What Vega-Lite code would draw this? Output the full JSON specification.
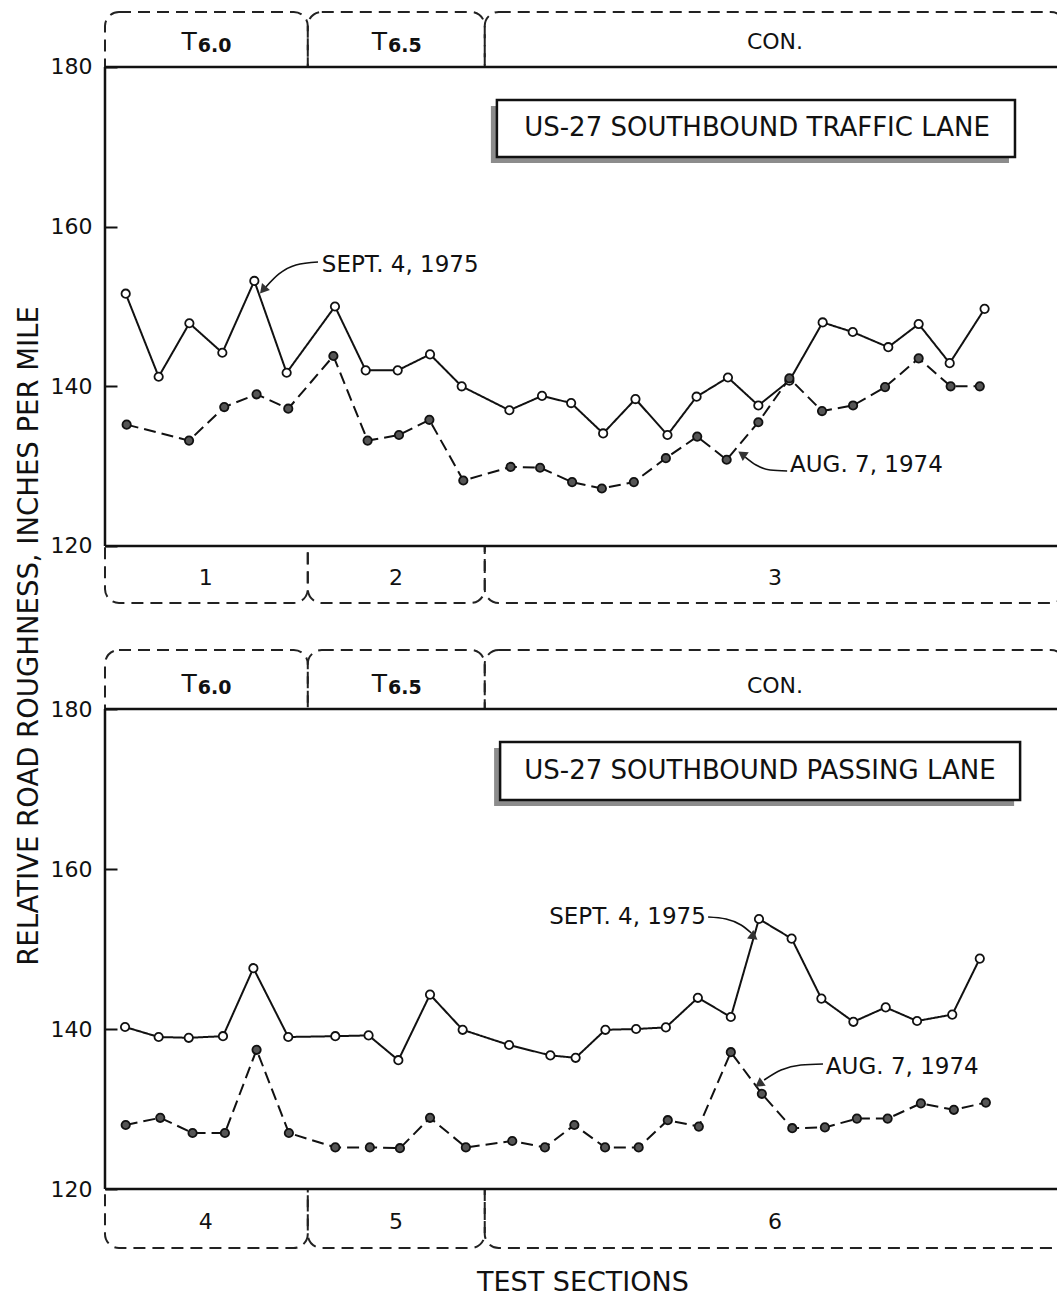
{
  "$schema": "https://vega.github.io/schema/vega-lite/v6.json",
  "width": 1057,
  "height": 1296,
  "autosize": {"type": "none"},
  "padding": 0,
  "background": "white",
  "config": {"view": {"stroke": null}, "font": "DejaVu Sans", "text": {"font": "DejaVu Sans", "color": "#111"}},
  "datasets": {
    "single": [{}],
    "sections": [
      {"panel": "top", "section": "1", "treat": "T", "sub": "6.0", "start": 0.353, "end": 6.69, "center": 3.50},
      {"panel": "top", "section": "2", "treat": "T", "sub": "6.5", "start": 6.69, "end": 12.22, "center": 9.45},
      {"panel": "top", "section": "3", "treat": "CON.", "sub": "", "start": 12.22, "end": 30.35, "center": 21.29},
      {"panel": "bottom", "section": "4", "treat": "T", "sub": "6.0", "start": 0.353, "end": 6.69, "center": 3.50},
      {"panel": "bottom", "section": "5", "treat": "T", "sub": "6.5", "start": 6.69, "end": 12.22, "center": 9.45},
      {"panel": "bottom", "section": "6", "treat": "CON.", "sub": "", "start": 12.22, "end": 30.35, "center": 21.29}
    ],
    "roughness": [
      {"panel": "top", "date": "SEPT. 4, 1975", "station": 1.00, "value": 151.6},
      {"panel": "top", "date": "SEPT. 4, 1975", "station": 2.03, "value": 141.2},
      {"panel": "top", "date": "SEPT. 4, 1975", "station": 2.99, "value": 147.9},
      {"panel": "top", "date": "SEPT. 4, 1975", "station": 4.02, "value": 144.2},
      {"panel": "top", "date": "SEPT. 4, 1975", "station": 5.02, "value": 153.2},
      {"panel": "top", "date": "SEPT. 4, 1975", "station": 6.03, "value": 141.7},
      {"panel": "top", "date": "SEPT. 4, 1975", "station": 7.54, "value": 150.0},
      {"panel": "top", "date": "SEPT. 4, 1975", "station": 8.50, "value": 142.0},
      {"panel": "top", "date": "SEPT. 4, 1975", "station": 9.50, "value": 142.0},
      {"panel": "top", "date": "SEPT. 4, 1975", "station": 10.51, "value": 144.0},
      {"panel": "top", "date": "SEPT. 4, 1975", "station": 11.50, "value": 140.0},
      {"panel": "top", "date": "SEPT. 4, 1975", "station": 12.99, "value": 137.0},
      {"panel": "top", "date": "SEPT. 4, 1975", "station": 14.01, "value": 138.8},
      {"panel": "top", "date": "SEPT. 4, 1975", "station": 14.92, "value": 137.9},
      {"panel": "top", "date": "SEPT. 4, 1975", "station": 15.92, "value": 134.1},
      {"panel": "top", "date": "SEPT. 4, 1975", "station": 16.93, "value": 138.4},
      {"panel": "top", "date": "SEPT. 4, 1975", "station": 17.93, "value": 133.9},
      {"panel": "top", "date": "SEPT. 4, 1975", "station": 18.84, "value": 138.7},
      {"panel": "top", "date": "SEPT. 4, 1975", "station": 19.82, "value": 141.1},
      {"panel": "top", "date": "SEPT. 4, 1975", "station": 20.77, "value": 137.6},
      {"panel": "top", "date": "SEPT. 4, 1975", "station": 21.74, "value": 140.7},
      {"panel": "top", "date": "SEPT. 4, 1975", "station": 22.78, "value": 148.0},
      {"panel": "top", "date": "SEPT. 4, 1975", "station": 23.72, "value": 146.8},
      {"panel": "top", "date": "SEPT. 4, 1975", "station": 24.83, "value": 144.9},
      {"panel": "top", "date": "SEPT. 4, 1975", "station": 25.78, "value": 147.8},
      {"panel": "top", "date": "SEPT. 4, 1975", "station": 26.75, "value": 142.9},
      {"panel": "top", "date": "SEPT. 4, 1975", "station": 27.84, "value": 149.7},
      {"panel": "top", "date": "AUG. 7, 1974", "station": 1.03, "value": 135.2},
      {"panel": "top", "date": "AUG. 7, 1974", "station": 2.98, "value": 133.2},
      {"panel": "top", "date": "AUG. 7, 1974", "station": 4.08, "value": 137.4},
      {"panel": "top", "date": "AUG. 7, 1974", "station": 5.09, "value": 139.0},
      {"panel": "top", "date": "AUG. 7, 1974", "station": 6.08, "value": 137.2},
      {"panel": "top", "date": "AUG. 7, 1974", "station": 7.49, "value": 143.8},
      {"panel": "top", "date": "AUG. 7, 1974", "station": 8.56, "value": 133.2},
      {"panel": "top", "date": "AUG. 7, 1974", "station": 9.54, "value": 133.9},
      {"panel": "top", "date": "AUG. 7, 1974", "station": 10.49, "value": 135.8},
      {"panel": "top", "date": "AUG. 7, 1974", "station": 11.55, "value": 128.2},
      {"panel": "top", "date": "AUG. 7, 1974", "station": 13.03, "value": 129.9},
      {"panel": "top", "date": "AUG. 7, 1974", "station": 13.95, "value": 129.8},
      {"panel": "top", "date": "AUG. 7, 1974", "station": 14.95, "value": 128.0},
      {"panel": "top", "date": "AUG. 7, 1974", "station": 15.88, "value": 127.2},
      {"panel": "top", "date": "AUG. 7, 1974", "station": 16.88, "value": 128.0},
      {"panel": "top", "date": "AUG. 7, 1974", "station": 17.88, "value": 131.0},
      {"panel": "top", "date": "AUG. 7, 1974", "station": 18.86, "value": 133.7},
      {"panel": "top", "date": "AUG. 7, 1974", "station": 19.78, "value": 130.8},
      {"panel": "top", "date": "AUG. 7, 1974", "station": 20.77, "value": 135.5},
      {"panel": "top", "date": "AUG. 7, 1974", "station": 21.74, "value": 141.0},
      {"panel": "top", "date": "AUG. 7, 1974", "station": 22.76, "value": 136.9},
      {"panel": "top", "date": "AUG. 7, 1974", "station": 23.73, "value": 137.6},
      {"panel": "top", "date": "AUG. 7, 1974", "station": 24.73, "value": 139.9},
      {"panel": "top", "date": "AUG. 7, 1974", "station": 25.78, "value": 143.5},
      {"panel": "top", "date": "AUG. 7, 1974", "station": 26.78, "value": 140.0},
      {"panel": "top", "date": "AUG. 7, 1974", "station": 27.69, "value": 140.0},
      {"panel": "bottom", "date": "SEPT. 4, 1975", "station": 0.98, "value": 140.25},
      {"panel": "bottom", "date": "SEPT. 4, 1975", "station": 2.03, "value": 139.0},
      {"panel": "bottom", "date": "SEPT. 4, 1975", "station": 2.97, "value": 138.9},
      {"panel": "bottom", "date": "SEPT. 4, 1975", "station": 4.04, "value": 139.1},
      {"panel": "bottom", "date": "SEPT. 4, 1975", "station": 4.99, "value": 147.6},
      {"panel": "bottom", "date": "SEPT. 4, 1975", "station": 6.08, "value": 139.0},
      {"panel": "bottom", "date": "SEPT. 4, 1975", "station": 7.55, "value": 139.1},
      {"panel": "bottom", "date": "SEPT. 4, 1975", "station": 8.59, "value": 139.2},
      {"panel": "bottom", "date": "SEPT. 4, 1975", "station": 9.52, "value": 136.1},
      {"panel": "bottom", "date": "SEPT. 4, 1975", "station": 10.51, "value": 144.3},
      {"panel": "bottom", "date": "SEPT. 4, 1975", "station": 11.53, "value": 139.9},
      {"panel": "bottom", "date": "SEPT. 4, 1975", "station": 12.98, "value": 138.0},
      {"panel": "bottom", "date": "SEPT. 4, 1975", "station": 14.27, "value": 136.7},
      {"panel": "bottom", "date": "SEPT. 4, 1975", "station": 15.06, "value": 136.4},
      {"panel": "bottom", "date": "SEPT. 4, 1975", "station": 15.99, "value": 139.9},
      {"panel": "bottom", "date": "SEPT. 4, 1975", "station": 16.95, "value": 140.0},
      {"panel": "bottom", "date": "SEPT. 4, 1975", "station": 17.88, "value": 140.2},
      {"panel": "bottom", "date": "SEPT. 4, 1975", "station": 18.88, "value": 143.9},
      {"panel": "bottom", "date": "SEPT. 4, 1975", "station": 19.91, "value": 141.5},
      {"panel": "bottom", "date": "SEPT. 4, 1975", "station": 20.79, "value": 153.75},
      {"panel": "bottom", "date": "SEPT. 4, 1975", "station": 21.81, "value": 151.3},
      {"panel": "bottom", "date": "SEPT. 4, 1975", "station": 22.74, "value": 143.8},
      {"panel": "bottom", "date": "SEPT. 4, 1975", "station": 23.74, "value": 140.9},
      {"panel": "bottom", "date": "SEPT. 4, 1975", "station": 24.75, "value": 142.7},
      {"panel": "bottom", "date": "SEPT. 4, 1975", "station": 25.73, "value": 141.0},
      {"panel": "bottom", "date": "SEPT. 4, 1975", "station": 26.83, "value": 141.8},
      {"panel": "bottom", "date": "SEPT. 4, 1975", "station": 27.69, "value": 148.8},
      {"panel": "bottom", "date": "AUG. 7, 1974", "station": 1.00, "value": 128.0},
      {"panel": "bottom", "date": "AUG. 7, 1974", "station": 2.08, "value": 128.9},
      {"panel": "bottom", "date": "AUG. 7, 1974", "station": 3.09, "value": 127.0},
      {"panel": "bottom", "date": "AUG. 7, 1974", "station": 4.10, "value": 127.0},
      {"panel": "bottom", "date": "AUG. 7, 1974", "station": 5.09, "value": 137.4},
      {"panel": "bottom", "date": "AUG. 7, 1974", "station": 6.10, "value": 127.0},
      {"panel": "bottom", "date": "AUG. 7, 1974", "station": 7.55, "value": 125.2},
      {"panel": "bottom", "date": "AUG. 7, 1974", "station": 8.63, "value": 125.2},
      {"panel": "bottom", "date": "AUG. 7, 1974", "station": 9.57, "value": 125.1},
      {"panel": "bottom", "date": "AUG. 7, 1974", "station": 10.51, "value": 128.9},
      {"panel": "bottom", "date": "AUG. 7, 1974", "station": 11.63, "value": 125.2},
      {"panel": "bottom", "date": "AUG. 7, 1974", "station": 13.08, "value": 126.0},
      {"panel": "bottom", "date": "AUG. 7, 1974", "station": 14.10, "value": 125.2},
      {"panel": "bottom", "date": "AUG. 7, 1974", "station": 15.02, "value": 128.0},
      {"panel": "bottom", "date": "AUG. 7, 1974", "station": 15.98, "value": 125.2},
      {"panel": "bottom", "date": "AUG. 7, 1974", "station": 17.03, "value": 125.2},
      {"panel": "bottom", "date": "AUG. 7, 1974", "station": 17.94, "value": 128.6},
      {"panel": "bottom", "date": "AUG. 7, 1974", "station": 18.91, "value": 127.8},
      {"panel": "bottom", "date": "AUG. 7, 1974", "station": 19.91, "value": 137.1},
      {"panel": "bottom", "date": "AUG. 7, 1974", "station": 20.88, "value": 131.9},
      {"panel": "bottom", "date": "AUG. 7, 1974", "station": 21.83, "value": 127.6},
      {"panel": "bottom", "date": "AUG. 7, 1974", "station": 22.85, "value": 127.7},
      {"panel": "bottom", "date": "AUG. 7, 1974", "station": 23.85, "value": 128.8},
      {"panel": "bottom", "date": "AUG. 7, 1974", "station": 24.81, "value": 128.8},
      {"panel": "bottom", "date": "AUG. 7, 1974", "station": 25.85, "value": 130.7},
      {"panel": "bottom", "date": "AUG. 7, 1974", "station": 26.88, "value": 129.9},
      {"panel": "bottom", "date": "AUG. 7, 1974", "station": 27.88, "value": 130.8}
    ],
    "arrows": [
      {"panel": "top", "arrow": "a", "order": 1, "station": 7.01, "value": 155.57},
      {"panel": "top", "arrow": "a", "order": 2, "station": 6.32, "value": 155.2},
      {"panel": "top", "arrow": "a", "order": 3, "station": 5.79, "value": 154.07},
      {"panel": "top", "arrow": "a", "order": 4, "station": 5.38, "value": 152.44},
      {"panel": "top", "arrow": "b", "order": 1, "station": 21.67, "value": 129.39},
      {"panel": "top", "arrow": "b", "order": 2, "station": 21.14, "value": 129.52},
      {"panel": "top", "arrow": "b", "order": 3, "station": 20.70, "value": 130.14},
      {"panel": "top", "arrow": "b", "order": 4, "station": 20.36, "value": 131.14},
      {"panel": "bottom", "arrow": "c", "order": 1, "station": 19.20, "value": 154.0},
      {"panel": "bottom", "arrow": "c", "order": 2, "station": 19.76, "value": 153.75},
      {"panel": "bottom", "arrow": "c", "order": 3, "station": 20.23, "value": 153.0},
      {"panel": "bottom", "arrow": "c", "order": 4, "station": 20.55, "value": 152.0},
      {"panel": "bottom", "arrow": "d", "order": 1, "station": 22.79, "value": 135.62},
      {"panel": "bottom", "arrow": "d", "order": 2, "station": 22.10, "value": 135.5},
      {"panel": "bottom", "arrow": "d", "order": 3, "station": 21.48, "value": 134.87},
      {"panel": "bottom", "arrow": "d", "order": 4, "station": 20.95, "value": 133.62}
    ]
  },
  "layer": [
    {
      "data": {"name": "single"},
      "layer": [
        {
          "data": {"name": "sections"},
          "transform": [{"filter": "datum.panel == 'top'"}],
          "layer": [
            {
              "mark": {"type": "rect", "filled": false, "stroke": "#222", "strokeWidth": 2, "strokeDash": [12, 7], "cornerRadiusTopLeft": 14, "cornerRadiusTopRight": 14},
              "encoding": {
                "x": {"field": "start", "type": "quantitative", "scale": {"domain": [-2.928, 30.103], "nice": false, "zero": false}, "axis": null},
                "x2": {"field": "end"},
                "y": {"datum": 180, "type": "quantitative", "scale": {"domain": [26.05, 188.39], "nice": false, "zero": false},
                  "axis": {"orient": "left", "values": [120, 140, 160, 180], "offset": -105, "domain": false, "grid": false, "tickSize": -12, "tickWidth": 2, "tickColor": "#111", "labelPadding": 25, "labelFontSize": 22, "labelFont": "DejaVu Sans", "labelColor": "#111", "labelFlush": false, "title": null}},
                "y2": {"datum": 186.89}
              }
            },
            {
              "mark": {"type": "rect", "filled": false, "stroke": "#222", "strokeWidth": 2, "strokeDash": [12, 7], "cornerRadiusBottomLeft": 14, "cornerRadiusBottomRight": 14},
              "encoding": {"x": {"field": "start", "type": "quantitative"}, "x2": {"field": "end"}, "y": {"datum": 112.86, "type": "quantitative"}, "y2": {"datum": 120}}
            },
            {
              "transform": [{"filter": "datum.sub != ''"}],
              "mark": {"type": "text", "fontSize": 25, "align": "right", "baseline": "alphabetic", "dx": -9},
              "encoding": {"x": {"field": "center", "type": "quantitative"}, "y": {"datum": 182.13, "type": "quantitative"}, "text": {"field": "treat"}}
            },
            {
              "transform": [{"filter": "datum.sub != ''"}],
              "mark": {"type": "text", "fontSize": 19, "fontWeight": "bold", "align": "left", "baseline": "alphabetic", "dx": -8, "dy": 2},
              "encoding": {"x": {"field": "center", "type": "quantitative"}, "y": {"datum": 182.13, "type": "quantitative"}, "text": {"field": "sub"}}
            },
            {
              "transform": [{"filter": "datum.sub == ''"}],
              "mark": {"type": "text", "fontSize": 22, "align": "center", "baseline": "middle"},
              "encoding": {"x": {"field": "center", "type": "quantitative"}, "y": {"datum": 183.13, "type": "quantitative"}, "text": {"field": "treat"}}
            },
            {
              "mark": {"type": "text", "fontSize": 22, "align": "center", "baseline": "middle"},
              "encoding": {"x": {"field": "center", "type": "quantitative"}, "y": {"datum": 115.99, "type": "quantitative"}, "text": {"field": "section"}}
            }
          ]
        },
        {
          "mark": {"type": "rule", "strokeWidth": 2.5, "color": "#111"},
          "encoding": {"x": {"datum": 0.353, "type": "quantitative"}, "y": {"datum": 120, "type": "quantitative"}, "y2": {"datum": 180}}
        },
        {
          "mark": {"type": "rule", "strokeWidth": 2.5, "color": "#111"},
          "encoding": {"x": {"datum": 0.353, "type": "quantitative"}, "x2": {"datum": 30.3}, "y": {"datum": 180, "type": "quantitative"}}
        },
        {
          "mark": {"type": "rule", "strokeWidth": 2.5, "color": "#111"},
          "encoding": {"x": {"datum": 0.353, "type": "quantitative"}, "x2": {"datum": 30.3}, "y": {"datum": 120, "type": "quantitative"}}
        },
        {
          "mark": {"type": "rect", "fill": "#8c8c8c", "xOffset": -6, "x2Offset": -6, "yOffset": 6, "y2Offset": 6},
          "encoding": {"x": {"datum": 12.60, "type": "quantitative"}, "x2": {"datum": 28.79}, "y": {"datum": 168.73, "type": "quantitative"}, "y2": {"datum": 175.87}}
        },
        {
          "mark": {"type": "rect", "fill": "white", "stroke": "#111", "strokeWidth": 2.5},
          "encoding": {"x": {"datum": 12.60, "type": "quantitative"}, "x2": {"datum": 28.79}, "y": {"datum": 168.73, "type": "quantitative"}, "y2": {"datum": 175.87}}
        },
        {
          "mark": {"type": "text", "fontSize": 26, "align": "center", "baseline": "middle", "text": "US-27 SOUTHBOUND TRAFFIC LANE"},
          "encoding": {"x": {"datum": 20.73, "type": "quantitative"}, "y": {"datum": 172.36, "type": "quantitative"}}
        },
        {
          "data": {"name": "roughness"},
          "transform": [{"filter": "datum.panel == 'top'"}],
          "layer": [
            {
              "mark": {"type": "line", "color": "#111", "strokeWidth": 2},
              "encoding": {
                "x": {"field": "station", "type": "quantitative"},
                "y": {"field": "value", "type": "quantitative"},
                "strokeDash": {"field": "date", "type": "nominal", "scale": {"domain": ["SEPT. 4, 1975", "AUG. 7, 1974"], "range": [[1, 0], [12, 6]]}, "legend": null}
              }
            },
            {
              "mark": {"type": "point", "shape": "circle", "filled": true, "size": 70, "stroke": "#111", "strokeWidth": 1.8, "opacity": 1},
              "encoding": {
                "x": {"field": "station", "type": "quantitative"},
                "y": {"field": "value", "type": "quantitative"},
                "fill": {"field": "date", "type": "nominal", "scale": {"domain": ["SEPT. 4, 1975", "AUG. 7, 1974"], "range": ["#ffffff", "#555555"]}, "legend": null}
              }
            }
          ]
        },
        {
          "data": {"name": "arrows"},
          "transform": [{"filter": "datum.panel == 'top'"}],
          "mark": {"type": "line", "color": "#111", "strokeWidth": 1.6, "interpolate": "monotone"},
          "encoding": {"x": {"field": "station", "type": "quantitative"}, "y": {"field": "value", "type": "quantitative"}, "detail": {"field": "arrow"}, "order": {"field": "order"}}
        },
        {
          "mark": {"type": "point", "shape": "triangle-up", "filled": true, "color": "#333", "size": 110, "angle": 221, "opacity": 1},
          "encoding": {"x": {"datum": 5.29, "type": "quantitative"}, "y": {"datum": 152.07, "type": "quantitative"}}
        },
        {
          "mark": {"type": "point", "shape": "triangle-up", "filled": true, "color": "#333", "size": 110, "angle": 305, "opacity": 1},
          "encoding": {"x": {"datum": 20.26, "type": "quantitative"}, "y": {"datum": 131.52, "type": "quantitative"}}
        },
        {
          "mark": {"type": "text", "fontSize": 23, "align": "left", "baseline": "middle", "text": "SEPT. 4, 1975"},
          "encoding": {"x": {"datum": 7.13, "type": "quantitative"}, "y": {"datum": 155.2, "type": "quantitative"}}
        },
        {
          "mark": {"type": "text", "fontSize": 23, "align": "left", "baseline": "middle", "text": "AUG. 7, 1974"},
          "encoding": {"x": {"datum": 21.76, "type": "quantitative"}, "y": {"datum": 130.14, "type": "quantitative"}}
        },
        {
          "mark": {"type": "text", "fontSize": 27.5, "align": "center", "baseline": "middle", "angle": 270, "text": "RELATIVE ROAD ROUGHNESS, INCHES PER MILE"},
          "encoding": {"x": {"datum": -1.99, "type": "quantitative"}, "y": {"datum": 108.72, "type": "quantitative"}}
        },
        {
          "mark": {"type": "text", "fontSize": 27, "align": "center", "baseline": "middle", "text": "TEST SECTIONS"},
          "encoding": {"x": {"datum": 15.29, "type": "quantitative"}, "y": {"datum": 27.68, "type": "quantitative"}}
        }
      ]
    },
    {
      "data": {"name": "single"},
      "layer": [
        {
          "data": {"name": "sections"},
          "transform": [{"filter": "datum.panel == 'bottom'"}],
          "layer": [
            {
              "mark": {"type": "rect", "filled": false, "stroke": "#222", "strokeWidth": 2, "strokeDash": [12, 7], "cornerRadiusTopLeft": 14, "cornerRadiusTopRight": 14},
              "encoding": {
                "x": {"field": "start", "type": "quantitative", "scale": {"domain": [-2.928, 30.103], "nice": false, "zero": false}, "axis": null},
                "x2": {"field": "end"},
                "y": {"datum": 180, "type": "quantitative", "scale": {"domain": [106.625, 268.625], "nice": false, "zero": false},
                  "axis": {"orient": "left", "values": [120, 140, 160, 180], "offset": -105, "domain": false, "grid": false, "tickSize": -12, "tickWidth": 2, "tickColor": "#111", "labelPadding": 25, "labelFontSize": 22, "labelFont": "DejaVu Sans", "labelColor": "#111", "labelFlush": false, "title": null}},
                "y2": {"datum": 187.375}
              }
            },
            {
              "mark": {"type": "rect", "filled": false, "stroke": "#222", "strokeWidth": 2, "strokeDash": [12, 7], "cornerRadiusBottomLeft": 14, "cornerRadiusBottomRight": 14},
              "encoding": {"x": {"field": "start", "type": "quantitative"}, "x2": {"field": "end"}, "y": {"datum": 112.625, "type": "quantitative"}, "y2": {"datum": 120}}
            },
            {
              "transform": [{"filter": "datum.sub != ''"}],
              "mark": {"type": "text", "fontSize": 25, "align": "right", "baseline": "alphabetic", "dx": -9},
              "encoding": {"x": {"field": "center", "type": "quantitative"}, "y": {"datum": 182.125, "type": "quantitative"}, "text": {"field": "treat"}}
            },
            {
              "transform": [{"filter": "datum.sub != ''"}],
              "mark": {"type": "text", "fontSize": 19, "fontWeight": "bold", "align": "left", "baseline": "alphabetic", "dx": -8, "dy": 2},
              "encoding": {"x": {"field": "center", "type": "quantitative"}, "y": {"datum": 182.125, "type": "quantitative"}, "text": {"field": "sub"}}
            },
            {
              "transform": [{"filter": "datum.sub == ''"}],
              "mark": {"type": "text", "fontSize": 22, "align": "center", "baseline": "middle"},
              "encoding": {"x": {"field": "center", "type": "quantitative"}, "y": {"datum": 182.875, "type": "quantitative"}, "text": {"field": "treat"}}
            },
            {
              "mark": {"type": "text", "fontSize": 22, "align": "center", "baseline": "middle"},
              "encoding": {"x": {"field": "center", "type": "quantitative"}, "y": {"datum": 115.875, "type": "quantitative"}, "text": {"field": "section"}}
            }
          ]
        },
        {
          "mark": {"type": "rule", "strokeWidth": 2.5, "color": "#111"},
          "encoding": {"x": {"datum": 0.353, "type": "quantitative"}, "y": {"datum": 120, "type": "quantitative"}, "y2": {"datum": 180}}
        },
        {
          "mark": {"type": "rule", "strokeWidth": 2.5, "color": "#111"},
          "encoding": {"x": {"datum": 0.353, "type": "quantitative"}, "x2": {"datum": 30.3}, "y": {"datum": 180, "type": "quantitative"}}
        },
        {
          "mark": {"type": "rule", "strokeWidth": 2.5, "color": "#111"},
          "encoding": {"x": {"datum": 0.353, "type": "quantitative"}, "x2": {"datum": 30.3}, "y": {"datum": 120, "type": "quantitative"}}
        },
        {
          "mark": {"type": "rect", "fill": "#8c8c8c", "xOffset": -6, "x2Offset": -6, "yOffset": 6, "y2Offset": 6},
          "encoding": {"x": {"datum": 12.70, "type": "quantitative"}, "x2": {"datum": 28.95}, "y": {"datum": 168.625, "type": "quantitative"}, "y2": {"datum": 175.875}}
        },
        {
          "mark": {"type": "rect", "fill": "white", "stroke": "#111", "strokeWidth": 2.5},
          "encoding": {"x": {"datum": 12.70, "type": "quantitative"}, "x2": {"datum": 28.95}, "y": {"datum": 168.625, "type": "quantitative"}, "y2": {"datum": 175.875}}
        },
        {
          "mark": {"type": "text", "fontSize": 26, "align": "center", "baseline": "middle", "text": "US-27 SOUTHBOUND PASSING LANE"},
          "encoding": {"x": {"datum": 20.82, "type": "quantitative"}, "y": {"datum": 172.25, "type": "quantitative"}}
        },
        {
          "data": {"name": "roughness"},
          "transform": [{"filter": "datum.panel == 'bottom'"}],
          "layer": [
            {
              "mark": {"type": "line", "color": "#111", "strokeWidth": 2},
              "encoding": {
                "x": {"field": "station", "type": "quantitative"},
                "y": {"field": "value", "type": "quantitative"},
                "strokeDash": {"field": "date", "type": "nominal", "scale": {"domain": ["SEPT. 4, 1975", "AUG. 7, 1974"], "range": [[1, 0], [12, 6]]}, "legend": null}
              }
            },
            {
              "mark": {"type": "point", "shape": "circle", "filled": true, "size": 70, "stroke": "#111", "strokeWidth": 1.8, "opacity": 1},
              "encoding": {
                "x": {"field": "station", "type": "quantitative"},
                "y": {"field": "value", "type": "quantitative"},
                "fill": {"field": "date", "type": "nominal", "scale": {"domain": ["SEPT. 4, 1975", "AUG. 7, 1974"], "range": ["#ffffff", "#555555"]}, "legend": null}
              }
            }
          ]
        },
        {
          "data": {"name": "arrows"},
          "transform": [{"filter": "datum.panel == 'bottom'"}],
          "mark": {"type": "line", "color": "#111", "strokeWidth": 1.6, "interpolate": "monotone"},
          "encoding": {"x": {"field": "station", "type": "quantitative"}, "y": {"field": "value", "type": "quantitative"}, "detail": {"field": "arrow"}, "order": {"field": "order"}}
        },
        {
          "mark": {"type": "point", "shape": "triangle-up", "filled": true, "color": "#333", "size": 110, "angle": 127, "opacity": 1},
          "encoding": {"x": {"datum": 20.63, "type": "quantitative"}, "y": {"datum": 151.5, "type": "quantitative"}}
        },
        {
          "mark": {"type": "point", "shape": "triangle-up", "filled": true, "color": "#333", "size": 110, "angle": 235, "opacity": 1},
          "encoding": {"x": {"datum": 20.79, "type": "quantitative"}, "y": {"datum": 133.12, "type": "quantitative"}}
        },
        {
          "mark": {"type": "text", "fontSize": 23, "align": "right", "baseline": "middle", "text": "SEPT. 4, 1975"},
          "encoding": {"x": {"datum": 19.13, "type": "quantitative"}, "y": {"datum": 154.0, "type": "quantitative"}}
        },
        {
          "mark": {"type": "text", "fontSize": 23, "align": "left", "baseline": "middle", "text": "AUG. 7, 1974"},
          "encoding": {"x": {"datum": 22.88, "type": "quantitative"}, "y": {"datum": 135.25, "type": "quantitative"}}
        }
      ]
    }
  ],
  "resolve": {"scale": {"y": "independent"}, "axis": {"y": "independent"}}
}
